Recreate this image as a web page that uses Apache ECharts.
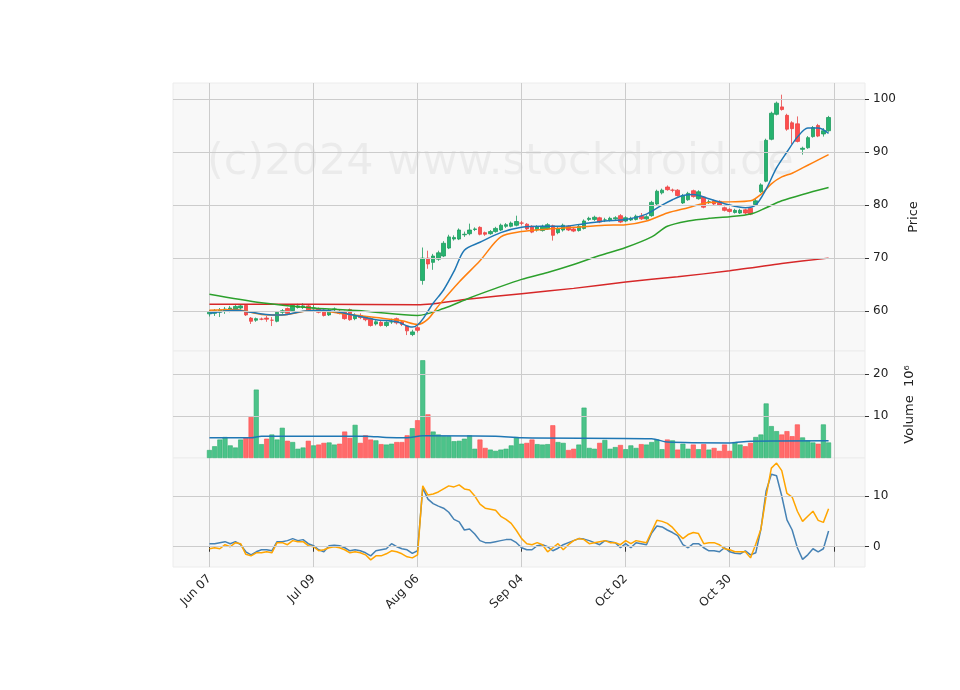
<!DOCTYPE html>
<html><head><meta charset="utf-8">
<script src="https://cdn.jsdelivr.net/npm/echarts@6/dist/echarts.min.js"></script>
<style>html,body{margin:0;background:#fff}#c{width:960px;height:690px}</style>
</head><body><div id="c"></div>
<script>
// tick labels every 20 bars
var tickLabels = ['Jun 07','Jul 09','Aug 06','Sep 04','Oct 02','Oct 30',''];
var padL = 7, padR = 7;
// [open, close, low, high]
var candles = [
 [59.5,59.8,59.0,60.2],[59.6,60.1,59.1,60.4],[59.8,60.2,58.9,60.6],[60.0,60.4,59.5,60.8],[60.3,60.6,59.8,61.0],
 [60.4,60.9,60.1,61.2],[60.6,61.0,60.3,61.3],[61.1,59.3,59.1,61.3],[58.7,58.1,57.6,58.9],[58.3,58.6,58.0,58.8],
 [58.5,58.5,58.3,58.8],[58.7,58.5,58.0,59.1],[58.3,58.3,57.2,58.9],[58.1,59.8,57.9,60.0],[59.8,60.1,59.5,60.4],
 [60.5,59.6,59.4,60.7],[60.1,61.1,59.9,61.3],[60.7,61.0,60.5,61.4],[60.7,61.0,60.4,61.5],[61.0,60.1,59.9,61.2],
 [60.6,60.6,60.0,61.2],[60.5,59.8,59.6,60.7],[60.2,59.2,59.0,60.4],[59.3,60.2,59.1,60.4],[60.4,60.4,59.8,60.7],
 [60.0,59.6,59.4,60.3],[59.9,58.6,58.4,60.1],[60.3,58.4,58.2,60.5],[58.6,59.2,58.3,59.6],[59.2,58.8,58.5,59.6],
 [58.9,58.4,58.1,59.1],[58.6,57.3,57.1,58.8],[57.6,58.0,57.3,58.3],[57.9,57.3,57.1,58.2],[57.3,57.9,57.0,58.1],
 [58.0,58.0,57.6,58.6],[58.6,57.8,57.5,58.8],[58.0,57.5,57.2,58.2],[57.2,56.3,55.5,57.4],[55.6,56.1,55.3,56.5],
 [56.9,56.4,56.0,57.2],[65.8,70.0,65.0,72.0],[70.0,68.9,68.0,71.4],[69.2,70.4,67.8,70.8],[69.8,71.0,69.5,71.4],
 [70.4,72.8,70.2,73.2],[71.9,74.0,71.7,74.4],[73.6,73.9,73.3,74.3],[73.6,75.3,73.4,75.6],[74.4,74.5,74.0,75.0],
 [74.6,75.3,74.3,76.5],[75.4,75.5,75.1,75.8],[75.8,74.5,74.3,76.0],[74.8,74.5,74.2,75.0],[74.6,75.0,74.4,75.3],
 [75.0,75.6,74.8,75.9],[75.3,76.2,75.1,76.5],[76.0,76.3,75.7,76.6],[76.0,76.6,75.8,76.9],[76.2,76.9,76.0,78.0],
 [76.6,76.6,76.2,77.0],[76.4,75.5,75.3,76.6],[76.0,74.9,74.7,76.2],[75.3,75.9,75.0,76.2],[75.2,76.0,75.0,76.3],
 [75.5,76.3,75.3,76.6],[76.1,74.3,73.3,76.3],[74.8,75.6,74.5,75.9],[75.3,76.2,75.0,76.5],[76.0,75.3,75.1,76.2],
 [75.5,75.1,74.9,75.8],[75.2,76.0,75.0,76.3],[75.6,77.0,75.4,77.3],[77.3,77.5,77.0,77.8],[77.3,77.7,77.0,78.0],
 [77.6,76.8,76.6,77.8],[77.2,77.2,76.8,77.6],[77.1,77.5,76.9,77.8],[77.4,77.6,77.2,77.9],[78.0,76.8,76.6,78.3],
 [77.0,77.6,76.8,77.9],[77.2,77.5,77.0,77.8],[77.3,77.9,77.1,78.2],[77.9,77.4,77.2,78.5],[77.4,77.8,77.2,78.1],
 [78.0,80.5,77.8,80.8],[80.2,82.6,80.0,82.9],[82.3,82.8,82.0,83.1],[83.4,82.9,82.7,83.7],[82.8,82.8,82.4,83.1],
 [82.8,81.8,81.6,83.0],[80.4,81.8,80.2,82.1],[81.0,82.2,80.8,82.5],[82.7,81.6,81.4,82.9],[81.2,82.5,81.0,82.8],
 [81.5,79.6,79.4,81.7],[80.6,80.6,80.2,81.0],[80.8,80.2,80.0,81.0],[80.7,80.0,79.8,80.9],[79.5,79.0,78.8,79.7],
 [79.2,78.8,78.6,79.4],[78.6,79.0,78.4,79.3],[78.5,79.0,78.3,79.3],[79.1,78.5,78.2,79.3],[79.4,78.3,78.1,79.6],
 [80.1,80.8,79.9,81.2],[82.5,83.8,82.3,84.1],[84.5,92.2,84.3,92.5],[92.4,97.3,92.2,97.6],[97.1,99.2,96.9,99.5],
 [98.5,98.0,97.8,100.8],[96.9,94.3,94.0,97.2],[95.5,94.4,91.5,95.8],[95.3,92.0,91.8,96.7],[90.5,90.7,89.5,91.0],
 [90.8,92.7,90.6,93.0],[92.9,94.6,92.7,94.9],[95.0,93.0,92.8,95.3],[93.4,94.0,92.9,94.5],[94.0,96.5,93.8,96.8]
];
var volume = [
 1.9,2.8,4.4,5.0,3.0,2.5,4.4,4.8,9.8,16.3,
 3.3,4.6,5.6,4.4,7.2,4.1,3.8,2.2,2.5,4.1,
 3.0,3.2,3.6,3.7,3.2,3.4,6.3,4.8,7.9,3.6,
 5.4,4.4,4.2,3.3,3.2,3.4,3.8,3.8,5.4,7.1,
 9.0,23.3,10.4,6.3,5.6,5.2,5.2,4.0,4.1,4.6,
 5.4,2.2,4.4,2.4,2.0,1.7,2.0,2.2,3.0,5.0,
 3.4,3.6,4.4,3.3,3.2,3.3,7.8,3.8,3.6,1.9,
 2.2,3.2,12.0,2.4,2.2,3.6,4.3,2.2,2.6,3.1,
 2.1,3.0,2.4,3.3,3.2,3.8,4.4,2.1,4.4,4.2,
 2.0,3.4,2.2,3.2,2.1,3.3,2.0,2.4,1.7,3.2,
 1.7,3.8,3.2,2.8,3.6,5.0,5.6,13.0,7.6,6.4,
 5.6,6.4,5.2,8.0,4.9,4.2,3.7,3.4,8.0,3.7
];
var oscBlue = [
 0.6,0.6,0.8,1.0,0.6,1.0,0.4,-1.0,-1.6,-1.0,
 -0.6,-0.6,-0.8,1.0,1.0,1.2,1.6,1.2,1.4,0.6,
 0.2,-0.6,-1.0,0.2,0.3,0.2,-0.2,-0.8,-0.6,-0.8,
 -1.2,-1.8,-0.8,-0.6,-0.4,0.6,0.0,-0.4,-0.6,-1.3,
 -0.8,11.6,9.4,8.5,8.0,7.6,6.8,5.4,4.9,3.3,
 3.5,2.5,1.2,0.8,0.8,1.0,1.2,1.4,1.4,0.8,
 -0.2,-0.6,-0.6,0.2,0.4,0.0,-0.8,-0.3,0.4,0.8,
 1.2,1.6,1.5,1.2,0.8,0.4,1.2,1.0,0.8,-0.2,
 0.6,-0.2,0.8,0.6,0.4,2.7,4.1,3.9,3.3,2.8,
 2.2,0.4,-0.2,0.6,0.6,-0.2,-0.8,-0.8,-1.0,-0.2,
 -1.0,-1.3,-1.4,-0.8,-1.6,-1.2,3.5,11.0,14.3,14.0,
 10.0,5.3,3.3,-0.2,-2.5,-1.6,-0.4,-1.0,-0.4,3.1
];
var oscOrange = [
 -0.4,-0.2,-0.4,0.4,0.0,0.8,0.6,-1.5,-1.8,-1.2,
 -1.2,-1.0,-1.2,0.8,0.8,0.4,1.2,1.0,1.0,0.2,
 0.0,-0.8,-0.6,-0.2,0.0,-0.2,-0.6,-1.2,-1.0,-1.2,
 -1.6,-2.6,-1.8,-1.8,-1.4,-0.8,-1.0,-1.4,-2.0,-2.2,
 -1.6,12.0,10.2,10.4,10.8,11.4,12.0,11.8,12.2,11.4,
 11.2,10.0,8.4,7.6,7.4,7.2,6.0,5.4,4.6,3.2,
 1.6,0.6,0.4,0.8,0.4,-1.0,-0.2,0.6,-0.6,0.4,
 1.2,1.6,1.4,0.6,0.8,1.0,1.2,0.8,0.8,0.4,
 1.2,0.6,1.2,1.0,0.8,3.0,5.2,5.0,4.6,3.8,
 2.6,1.6,2.4,2.8,2.6,0.6,0.8,0.8,0.4,-0.4,
 -0.6,-1.0,-1.0,-1.0,-2.2,0.5,3.5,10.0,15.5,16.5,
 15.0,10.5,9.8,7.0,5.0,6.0,7.0,5.2,4.8,7.5
];
// moving averages read at sample bars: [bar, value]
var maBlue = [[0,59.6],[5,60.2],[8,59.8],[12,59.3],[15,59.4],[18,60],[22,60.2],[25,59.8],[28,59.2],[32,58.4],[36,58],[39,57],[40,57.4],[41,58.5],[43,61.5],[45,64],[47,67.5],[49,71.5],[52,73],[56,74.8],[60,75.8],[64,76],[68,76],[72,76.5],[76,77],[80,77.3],[84,78.3],[87,80],[89,81],[91,81.8],[93,82],[96,81.2],[100,80],[103,79.5],[105,80],[107,83],[109,87],[111,90],[113,92.8],[115,94.5],[117,94.5],[119,93.5]];
var maOrange = [[0,60.2],[5,60.3],[10,59.4],[14,59.3],[20,60.2],[26,59.5],[32,58.8],[37,58.2],[40,57.5],[42,58.5],[44,61],[48,65.5],[52,69.5],[56,74],[60,75],[64,75.4],[70,75.8],[76,76.2],[80,76.3],[84,77],[88,78.5],[92,79.5],[96,80.5],[100,80.6],[104,80.8],[106,82],[108,84],[110,85.3],[112,86],[114,87],[116,88],[119,89.5]];
var maGreen = [[0,63.2],[10,61.6],[20,60.6],[30,60],[40,59.2],[45,60.5],[50,62.5],[55,64.3],[60,66],[65,67.3],[70,68.8],[75,70.5],[80,72],[85,74],[88,76],[92,77],[96,77.5],[100,77.8],[104,78.3],[107,79.5],[110,80.8],[114,82],[119,83.3]];
var maRed = [[0,61.3],[20,61.3],[40,61.2],[50,62.3],[60,63.3],[70,64.3],[80,65.5],[90,66.5],[100,67.6],[105,68.3],[110,69],[119,70]];
var volMa = [[0,4.8],[8,4.8],[10,5.2],[30,5.2],[34,4.9],[38,4.8],[41,5.3],[55,5.2],[60,4.8],[85,4.6],[88,3.8],[100,3.6],[104,4.0],[119,4.1]];
var priceTicks = [60,70,80,90,100];
var volTicks = [10,20];
var oscTicks = [0,10];

var nCat = padL + candles.length + padR;
var cats = [];
for (var i = 0; i < nCat; i++) {
  var k = i - padL;
  cats.push(k >= 0 && k % 20 === 0 ? (tickLabels[k / 20] || '') : '');
}
function isTick(i){ var k = i - padL; return k >= 0 && k % 20 === 0; }
function shift(arr){ return arr.map(function(p){ return [p[0] + padL, p[1]]; }); }
function padArr(arr){ var a = []; for (var i=0;i<padL;i++) a.push('-'); return a.concat(arr); }

var UP = '#26b36f', DOWN = '#ff4d4d';
var volData = volume.map(function(v, i){
  var up = candles[i][1] >= candles[i][0];
  return {value: v, itemStyle: {color: up ? '#4cc38a' : '#ff6b6b', borderColor: up ? '#2fae6f' : '#ff4d4d', borderWidth: 0.6}};
});

function hLines(vals){
  return {silent: true, symbol: 'none', label: {show: false}, lineStyle: {color: '#cccccc', type: 'solid', width: 1},
    data: vals.map(function(v){ return {yAxis: v}; })};
}

var chart = echarts.init(document.getElementById('c'));
var L = 173, R = 95;
var grids = [
  {left: L, right: R, top: 83, height: 268},
  {left: L, right: R, top: 351, height: 107},
  {left: L, right: R, top: 458, height: 109}
].map(function(g){ g.show = true; g.backgroundColor = '#f8f8f8'; g.borderColor = '#ececec'; g.borderWidth = 1; return g; });

function xAx(idx, bottom){
  return {type: 'category', gridIndex: idx, data: cats, boundaryGap: false,
    axisLine: {show: false},
    axisTick: {show: bottom, interval: function(i){ return isTick(i); }, length: 5, lineStyle: {color: '#333'}},
    axisLabel: {show: bottom, interval: function(i){ return isTick(i); }, rotate: 45, color: '#222', fontSize: 12, fontFamily: 'DejaVu Sans', margin: 10},
    splitLine: {show: true, interval: function(i){ return isTick(i); }, lineStyle: {color: '#cccccc'}}};
}
function yAx(idx, min, max, ticks, name, gap){
  return {type: 'value', gridIndex: idx, position: 'right', min: min, max: max, scale: true,
    name: name, nameLocation: 'middle', nameGap: gap, nameRotate: 90,
    nameTextStyle: {color: '#222', fontSize: 13, fontFamily: 'DejaVu Sans'},
    axisLine: {show: false}, splitLine: {show: false},
    axisTick: {show: true, customValues: ticks, length: 4, lineStyle: {color: '#333'}},
    axisLabel: {customValues: ticks, color: '#222', fontSize: 12, fontFamily: 'DejaVu Sans', margin: 8}};
}

function line(data, color, xi, yi, w){
  return {type: 'line', xAxisIndex: xi, yAxisIndex: yi, data: data, showSymbol: false, smooth: 0.3,
    lineStyle: {color: color, width: w || 1.5}, z: 3};
}

chart.setOption({
  animation: false,
  grid: grids,
  graphic: [{type: 'text', left: 207, top: 141, silent: true,
    style: {text: '(c)2024 www.stockdroid.de', fontSize: 43, fontFamily: 'DejaVu Sans', fill: 'rgba(0,0,0,0.05)'}}],
  xAxis: [xAx(0, false), xAx(1, false), xAx(2, true)],
  yAxis: [yAx(0, 52.5, 103, priceTicks, 'Price', 40), yAx(1, 0, 25.5, volTicks, 'Volume  10\u2076', 38), yAx(2, -4, 17.5, oscTicks, '', 30)],
  series: [
    {type: 'candlestick', xAxisIndex: 0, yAxisIndex: 0, data: padArr(candles), barWidth: 4,
      itemStyle: {color: UP, color0: DOWN, borderColor: '#1e9a5e', borderColor0: '#e84545', borderWidth: 0.8},
      markLine: hLines(priceTicks), z: 2},
    line(shift(maRed), '#d62728', 0, 0),
    line(shift(maGreen), '#2ca02c', 0, 0),
    line(shift(maOrange), '#ff7f0e', 0, 0),
    line(shift(maBlue), '#1f77b4', 0, 0),
    {type: 'bar', xAxisIndex: 1, yAxisIndex: 1, data: padArr(volData), barWidth: 5, markLine: hLines(volTicks)},
    line(shift(volMa), '#1f77b4', 1, 1),
    {type: 'line', xAxisIndex: 2, yAxisIndex: 2, data: padArr(oscBlue), showSymbol: false, lineStyle: {color: '#4682b4', width: 1.5}, markLine: hLines(oscTicks)},
    {type: 'line', xAxisIndex: 2, yAxisIndex: 2, data: padArr(oscOrange), showSymbol: false, lineStyle: {color: '#ffa500', width: 1.5}}
  ]
});
</script>
</body></html>
